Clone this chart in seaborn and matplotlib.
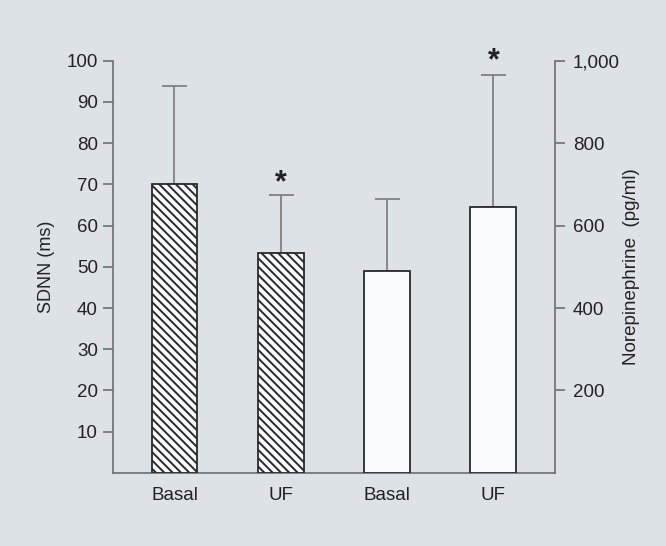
import matplotlib
matplotlib.use("Agg")
import matplotlib.pyplot as plt
import seaborn as sns
import numpy as np
import pandas as pd

# ---- data ----
keys = ["SDNN Basal", "SDNN UF", "NE Basal", "NE UF"]
tick_labels = ["Basal", "UF", "Basal", "UF"]
sdnn_groups = ["SDNN Basal", "SDNN UF"]
sdnn_mean = [70.1, 53.4]
sdnn_err = [23.8, 13.9]
ne_groups = ["NE Basal", "NE UF"]
ne_mean = [490, 645]
ne_err = [174, 321]
significant = [False, True, False, True]

sns.set_theme(style="white")
plt.rcParams['font.family'] = ['Liberation Sans', 'DejaVu Sans']
plt.rcParams['hatch.linewidth'] = 1.4
plt.rcParams['hatch.color'] = '#222222'

bg = '#dde2e6'
fig = plt.figure(figsize=(6.66, 5.46), dpi=100, facecolor=bg)
ax = fig.add_axes([113/666, 1-472.9/546, (555-113)/666, (472.9-60.7)/546])
ax.set_facecolor('none')

df_l = pd.DataFrame({"group": sdnn_groups, "value": sdnn_mean})
df_r = pd.DataFrame({"group": ne_groups, "value": ne_mean})

sns.barplot(data=df_l, x="group", y="value", order=keys, ax=ax, width=0.43,
            color='white', edgecolor='#2a2a2a', linewidth=1.3, errorbar=None,
            hatch='\\\\\\\\', zorder=3)
ax2 = ax.twinx()
ax2.set_facecolor('none')
sns.barplot(data=df_r, x="group", y="value", order=keys, ax=ax2, width=0.43,
            color='#f8fafc', edgecolor='#2a2a2a', linewidth=1.3, errorbar=None,
            zorder=3)
for p in ax.patches:
    p.set_facecolor('#f8fafc')
    p.set_hatch('\\\\\\\\')

xl = [keys.index(g) for g in sdnn_groups]
xr = [keys.index(g) for g in ne_groups]
ax.errorbar(xl, sdnn_mean, yerr=[np.zeros(len(sdnn_err)), sdnn_err], fmt='none',
            ecolor='#808080', elinewidth=1.3, capsize=9, capthick=1.3, zorder=2)
ax2.errorbar(xr, ne_mean, yerr=[np.zeros(len(ne_err)), ne_err], fmt='none',
             ecolor='#808080', elinewidth=1.3, capsize=9, capthick=1.3, zorder=2)

# significance stars
for i, g in enumerate(sdnn_groups):
    if significant[keys.index(g)]:
        ax.text(keys.index(g), sdnn_mean[i] + sdnn_err[i] + 3.0, '*', ha='center',
                va='center', fontsize=22, fontweight='bold', color='#222222', clip_on=False)
for i, g in enumerate(ne_groups):
    if significant[keys.index(g)]:
        ax2.text(keys.index(g), ne_mean[i] + ne_err[i] + 32, '*', ha='center',
                 va='center', fontsize=22, fontweight='bold', color='#222222', clip_on=False)

ax.set_xlim(-0.578, 3.58)
ax.set_ylim(0, 100)
ax2.set_ylim(0, 1000)
ax.set_yticks(range(10, 101, 10))
ax2.set_yticks(range(200, 1001, 200))
ax2.set_yticklabels(['200', '400', '600', '800', '1,000'])
ax.set_xticks(range(len(keys)))
ax.set_xticklabels(tick_labels)
ax.set_xlabel('')
ax.set_ylabel('SDNN (ms)', fontsize=13, color='#222222', labelpad=8)
ax2.set_xlabel('')
ax2.set_ylabel('Norepinephrine  (pg/ml)', fontsize=13.5, color='#222222', labelpad=2)

for a in (ax, ax2):
    a.spines['top'].set_visible(False)
    for s in ('left', 'right', 'bottom'):
        a.spines[s].set_color('#6e6e6e')
        a.spines[s].set_linewidth(1.2)
ax.spines['right'].set_visible(False)
ax2.spines['left'].set_visible(False)
ax2.spines['bottom'].set_visible(False)

ax.tick_params(axis='y', direction='out', length=7, width=1.2, color='#6e6e6e',
               labelsize=13.5, labelcolor='#222222', pad=4, left=True)
ax.tick_params(axis='x', length=0, labelsize=13.5, labelcolor='#222222', pad=10)
ax2.tick_params(axis='y', direction='out', length=7, width=1.2, color='#6e6e6e',
                labelsize=13.5, labelcolor='#222222', pad=6, right=True)

fig.savefig('out.png', dpi=100, facecolor=bg)
